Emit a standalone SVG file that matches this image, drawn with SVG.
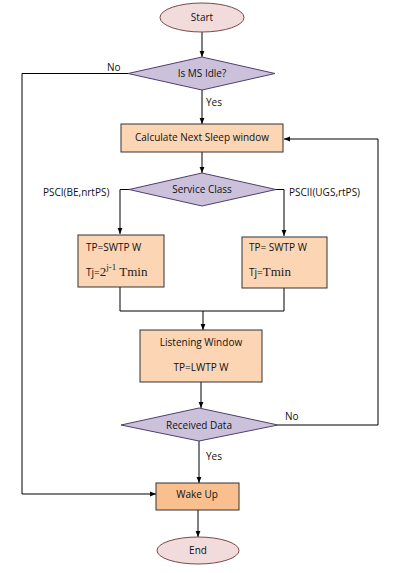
<svg xmlns="http://www.w3.org/2000/svg" width="408" height="573" viewBox="0 0 408 573">
<defs>
<marker id="arr" viewBox="0 0 10 10" refX="10" refY="5" markerWidth="6" markerHeight="6" orient="auto" markerUnits="userSpaceOnUse">
<path d="M0,1 L10,5 L0,9 z" fill="#000"/>
</marker>
<style>
.t{font-family:"Open Sans","Noto Sans",sans-serif;font-size:10px;fill:#111}
.c{text-anchor:middle}
.s{font-family:"Liberation Serif","Times New Roman",serif;fill:#222}
.term{fill:#f2dcdb;stroke:#7a4a4a;stroke-width:1}
.dec{fill:#ccc1da;stroke:#4f3f6f;stroke-width:1}
.proc{fill:#fcd5b4;stroke:#333;stroke-width:1}
.wake{fill:#f9bf8f;stroke:#333;stroke-width:1}
.ln{fill:none;stroke:#000;stroke-width:1}
.la{fill:none;stroke:#000;stroke-width:1;marker-end:url(#arr)}
</style>
</defs>
<rect width="408" height="573" fill="#fff"/>
<g id="connectors">
<path class="la" d="M202,32 V57"/>
<path class="la" d="M202,90 V124"/>
<path class="la" d="M128,73.5 H22 V494 H156"/>
<path class="la" d="M202,152 V173"/>
<path class="la" d="M129,189.5 H120 V234"/>
<path class="la" d="M276,189.5 H284 V236"/>
<path class="ln" d="M120,287 V311 H284 V288"/>
<path class="la" d="M203,311 V330"/>
<path class="la" d="M201,382 V408"/>
<path class="la" d="M278,425 H378 V139 H284"/>
<path class="la" d="M199,441 V483"/>
<path class="la" d="M198,510 V537"/>
</g>
<g id="labels">
<text class="t" x="107" y="71">No</text>
<text class="t" x="206" y="106">Yes</text>
<text class="t" x="43" y="196">PSCI(BE,nrtPS)</text>
<text class="t" x="289" y="196">PSCII(UGS,rtPS)</text>
<text class="t" x="285" y="420">No</text>
<text class="t" x="206" y="460">Yes</text>
</g>
<g id="start">
<ellipse class="term" cx="202" cy="17.5" rx="42" ry="14.5"/>
<text class="t c" x="202" y="21">Start</text>
</g>
<g id="idle">
<polygon class="dec" points="202,57 275,73.5 202,90 128,73.5"/>
<text class="t c" x="202" y="77">Is MS Idle?</text>
</g>
<g id="calc">
<rect class="proc" x="121" y="124" width="162" height="28"/>
<text class="t c" x="202" y="141">Calculate Next Sleep window</text>
</g>
<g id="service">
<polygon class="dec" points="202,173 276,189.5 202,206 129,189.5"/>
<text class="t c" x="202" y="193">Service Class</text>
</g>
<g id="psci">
<rect class="proc" x="78" y="235" width="86" height="52"/>
<text class="t" x="86" y="251">TP=SWTP W</text>
<text x="86" y="276"><tspan class="t">Tj=</tspan><tspan class="s" font-size="13">2</tspan><tspan class="s" font-size="9" dy="-6">j-1</tspan><tspan class="s" font-size="13" dy="6"> Tmin</tspan></text>
</g>
<g id="pscii">
<rect class="proc" x="242" y="237" width="85" height="51"/>
<text class="t" x="249" y="251">TP= SWTP W</text>
<text x="249" y="276"><tspan class="t">Tj=</tspan><tspan class="s" font-size="13">Tmin</tspan></text>
</g>
<g id="listen">
<rect class="proc" x="140" y="330" width="122" height="52"/>
<text class="t c" x="201" y="346">Listening Window</text>
<text class="t c" x="201" y="371">TP=LWTP W</text>
</g>
<g id="received">
<polygon class="dec" points="199,408 278,425 199,441 121,425"/>
<text class="t c" x="199" y="429">Received Data</text>
</g>
<g id="wake">
<rect class="wake" x="156" y="483" width="83" height="27"/>
<text class="t c" x="197" y="498">Wake Up</text>
</g>
<g id="end">
<ellipse class="term" cx="198" cy="550.5" rx="41" ry="13.5"/>
<text class="t c" x="198" y="554">End</text>
</g>
</svg>
